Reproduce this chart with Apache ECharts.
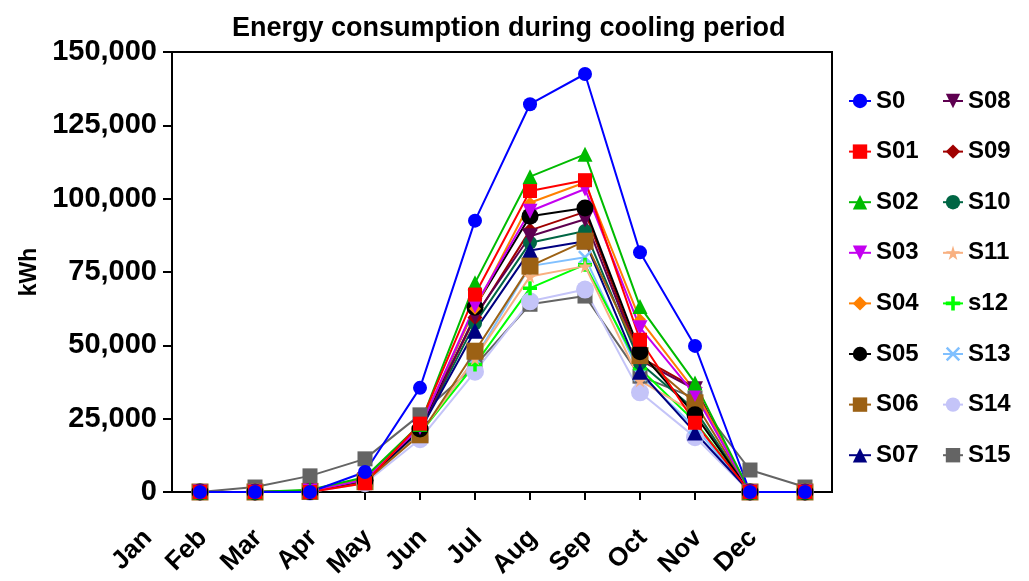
<!DOCTYPE html>
<html>
<head>
<meta charset="utf-8">
<script src="https://cdn.jsdelivr.net/npm/echarts@6/dist/echarts.min.js"></script>
<style>html,body{margin:0;padding:0;background:#fff}#c{width:1029px;height:581px}</style>
</head>
<body>
<div id="c"></div>
<script>
// ---- data ----
var monthLabels = ['Jan','Feb','Mar','Apr','May','Jun','Jul','Aug','Sep','Oct','Nov','Dec',''];
var yTickLabels = ['0','25,000','50,000','75,000','100,000','125,000','150,000'];
var seriesNames = ['S0','S01','S02','S03','S04','S05','S06','S07','S08','S09','S10','S11','s12','S13','S14','S15'];

var S0  = [0, 0, 0, 6800, 35500, 92500, 132200, 142500, 81700, 49800, 0, 0];
var S01 = [0, 0, 0, 3000, 23300, 67300, 102600, 106300, 51900, 23600, 0, 0];
var S02 = [0, 0, 800, 5000, 23000, 71300, 107500, 115100, 63200, 37200, 0, 0];
var S03 = [0, 0, 300, 4200, 22000, 63500, 95700, 103300, 56000, 33200, 0, 0];
var S04 = [0, 0, 300, 4500, 22500, 62500, 98600, 105500, 58800, 34500, 0, 0];
var S05 = [0, 0, 200, 4000, 21500, 63000, 94000, 96800, 47800, 26300, 0, 0];
var S06 = [0, 0, 200, 3500, 19500, 48000, 77000, 85500, 46500, 30400, 0, 0];
var S07 = [0, 0, 200, 3800, 21000, 55000, 82300, 85500, 41000, 20300, 0, 0];
var S08 = [0, 0, 200, 4000, 21500, 60000, 87200, 93000, 45000, 35000, 0, 0];
var S09 = [0, 0, 200, 4000, 21500, 59500, 89200, 95500, 46000, 35500, 0, 0];
var S10 = [0, 0, 200, 3800, 21000, 57500, 85000, 89000, 44000, 28000, 0, 0];
var S11 = [0, 0, 200, 3500, 20000, 45500, 73500, 77000, 38000, 27000, 0, 0];
var s12 = [0, 0, 300, 3500, 20000, 43500, 69500, 77500, 42000, 24000, 0, 0];
var S13 = [0, 0, 200, 3500, 20000, 45500, 77000, 80000, 40000, 22000, 0, 0];
var S14 = [0, 0, 0, 3000, 18000, 41000, 65000, 69000, 34000, 18700, 0, 0];
var S15 = [0, 1700, 5500, 11300, 26300, 43000, 64000, 66800, 39500, 32000, 7500, 1700];

var seriesValues = [S0,S01,S02,S03,S04,S05,S06,S07,S08,S09,S10,S11,s12,S13,S14,S15];

// ---- styles ----
var colors = ['#0000FF','#FF0000','#00BB00','#C400F0','#FF8000','#000000','#9C6114','#000080',
              '#5E0050','#A00000','#006644','#F8B080','#00FF00','#80C0FF','#C4C4F8','#646464'];
var PLUS = 'path://M3,0H5V3H8V5H5V8H3V5H0V3H3Z';
var XMARK = 'path://M1,0L4,3L7,0L8,1L5,4L8,7L7,8L4,5L1,8L0,7L3,4L0,1Z';
var STAR = 'path://M50,0L61,35L98,35L68,57L79,91L50,70L21,91L32,57L2,35L39,35Z';
var symbols = ['circle','rect','triangle','triangle','diamond','circle','rect','triangle',
               'triangle','diamond','circle', STAR, PLUS, XMARK,'circle','rect'];
var rotates = [0,0,0,180,0,0,0,0,180,0,0,0,0,0,0,0];
var sizes = [14,14,15,15,12,17,17,16,16,15,14,14,14,14,18,15];

var FONT = '"Liberation Sans", Arial, Helvetica, sans-serif';

var series = [];
for (var k = seriesNames.length - 1; k >= 0; k--) {
  var vals = seriesValues[k];
  var d = [];
  for (var i = 0; i < vals.length; i++) d.push([i, vals[i]]);
  series.push({
    name: seriesNames[k], type: 'line', xAxisIndex: 0, yAxisIndex: 0,
    data: d, symbol: symbols[k], symbolSize: sizes[k], symbolRotate: rotates[k],
    showAllSymbol: true, animation: false,
    lineStyle: { color: colors[k], width: 2 },
    itemStyle: { color: colors[k] },
    emphasis: { disabled: true }
  });
}

var legendText = { fontFamily: FONT, fontWeight: 'bold', fontSize: 24, color: '#000', lineHeight: 26 };

var chart = echarts.init(document.getElementById('c'), null, { renderer: 'canvas' });
chart.setOption({
  animation: false,
  backgroundColor: '#fff',
  title: {
    text: 'Energy consumption during cooling period',
    left: 227, top: 10,
    textStyle: { fontFamily: FONT, fontWeight: 'bold', fontSize: 27, color: '#000' }
  },
  legend: [{
    data: seriesNames.slice(0, 8), orient: 'vertical', left: 843, top: 83,
    itemWidth: 22, itemHeight: 18, itemGap: 24.6, selectedMode: false,
    textStyle: legendText
  }, {
    data: seriesNames.slice(8), orient: 'vertical', left: 937, top: 83,
    itemWidth: 20, itemHeight: 18, itemGap: 24.6, selectedMode: false,
    textStyle: legendText
  }],
  grid: [
    { left: 172, right: 197, top: 52, bottom: 89, show: true, borderColor: '#000', borderWidth: 2, containLabel: false },
    { left: 148, right: 221, top: 52, bottom: 89, show: false, containLabel: false },
    { left: 145, right: 224, top: 52, bottom: 89, show: false, containLabel: false }
  ],
  xAxis: [{
    gridIndex: 0, type: 'value', min: -28 / 55, max: 632 / 55,
    axisLine: { show: true, onZero: false, lineStyle: { color: '#000', width: 2 } },
    axisTick: { show: false }, axisLabel: { show: false }, splitLine: { show: false }
  }, {
    gridIndex: 1, type: 'category', data: monthLabels, boundaryGap: false,
    axisLine: { show: false }, axisTick: { show: false },
    axisLabel: { show: true, interval: 0, rotate: 45, margin: 44,
      fontFamily: FONT, fontWeight: 'bold', fontSize: 26, color: '#000' },
    splitLine: { show: false }
  }, {
    gridIndex: 2, type: 'category', data: monthLabels, boundaryGap: false,
    axisLine: { show: false },
    axisTick: { show: true, length: 8, lineStyle: { color: '#000', width: 2 },
      interval: function (idx) { return idx > 0; } },
    axisLabel: { show: false },
    splitLine: { show: false }
  }],
  yAxis: [{
    gridIndex: 0, type: 'value', min: 0, max: 150000, interval: 25000,
    name: 'kWh', nameLocation: 'middle', nameGap: 131, nameRotate: 90,
    nameTextStyle: { fontFamily: FONT, fontWeight: 'bold', fontSize: 23, color: '#000' },
    axisLine: { show: true, onZero: false, lineStyle: { color: '#000', width: 2 } },
    axisTick: { show: true, inside: false, length: 9, lineStyle: { color: '#000', width: 2 } },
    axisLabel: { margin: 15, fontFamily: FONT, fontWeight: 'bold', fontSize: 29, color: '#000',
      formatter: function (v) { return yTickLabels[Math.round(v / 25000)]; } },
    splitLine: { show: false }
  }, {
    gridIndex: 1, type: 'value', min: 0, max: 150000, show: false
  }, {
    gridIndex: 2, type: 'value', min: 0, max: 150000, show: false
  }],
  series: series
});
</script>
</body>
</html>
